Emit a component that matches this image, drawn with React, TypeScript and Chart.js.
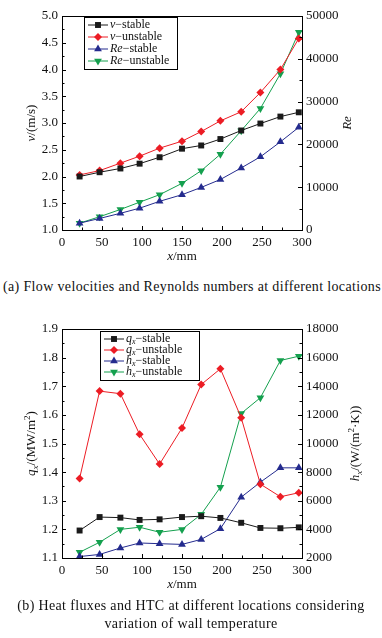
import React, { useEffect, useRef } from 'react';
import { Chart, registerables } from 'chart.js';
Chart.register(...registerables);

// ---------- data ----------
const X_MM = [22, 47, 73, 97, 122, 150, 174, 198, 224, 248, 273, 296];

const V_STABLE = [2.0, 2.08, 2.15, 2.24, 2.36, 2.52, 2.58, 2.7, 2.86, 2.99, 3.12, 3.2];
const V_UNSTABLE = [2.03, 2.11, 2.25, 2.38, 2.53, 2.66, 2.84, 3.04, 3.21, 3.57, 4.0, 4.58];
const RE_STABLE = [1600, 2700, 3900, 5100, 6700, 8250, 9950, 11800, 14500, 17100, 20600, 24000];
const RE_UNSTABLE = [1600, 3100, 4800, 6500, 8250, 10900, 13850, 17700, 23200, 28400, 36500, 46200];

const Q_STABLE = [1.196, 1.243, 1.241, 1.233, 1.235, 1.243, 1.246, 1.24, 1.223, 1.205, 1.204, 1.207];
const Q_UNSTABLE = [1.378, 1.683, 1.674, 1.532, 1.428, 1.554, 1.706, 1.761, 1.59, 1.358, 1.314, 1.328];
const H_STABLE = [2100, 2250, 2700, 3050, 3000, 2950, 3300, 4050, 6250, 7300, 8300, 8300];
const H_UNSTABLE = [2400, 3100, 4000, 4150, 3800, 4000, 5050, 6950, 12100, 13200, 15800, 16100];

const CAPTION_A = '(a) Flow velocities and Reynolds numbers at different locations';
const CAPTION_B1 = '(b) Heat fluxes and HTC at different locations considering';
const CAPTION_B2 = 'variation of wall temperature';

const FONT = '"Liberation Serif", "DejaVu Serif", serif';
const C_BLACK = '#1a1a1a';
const C_RED = '#ec1c24';
const C_BLUE = '#242b8e';
const C_GREEN = '#14a04e';

type Part = { t: string; i?: boolean; sub?: boolean; sup?: boolean };

function partFont(p: Part, size: number) {
  const s = p.sub || p.sup ? Math.round(size * 0.68) : size;
  return `${p.i ? 'italic ' : ''}${s}px ${FONT}`;
}

function richWidth(ctx: CanvasRenderingContext2D, parts: Part[], size: number) {
  let w = 0;
  for (const p of parts) {
    ctx.font = partFont(p, size);
    w += ctx.measureText(p.t).width;
  }
  return w;
}

function drawRich(ctx: CanvasRenderingContext2D, parts: Part[], x: number, y: number, size: number, align: 'left' | 'center') {
  const w = richWidth(ctx, parts, size);
  let cx = align === 'center' ? x - w / 2 : x;
  ctx.textAlign = 'left';
  ctx.textBaseline = 'middle';
  for (const p of parts) {
    ctx.font = partFont(p, size);
    const dy = p.sub ? size * 0.28 : p.sup ? -size * 0.35 : 0;
    ctx.fillText(p.t, cx, y + dy);
    cx += ctx.measureText(p.t).width;
  }
}

function drawMarker(ctx: CanvasRenderingContext2D, style: string, x: number, y: number, r: number, rot: number) {
  ctx.beginPath();
  if (style === 'rect') {
    const s = r * Math.SQRT1_2;
    ctx.rect(x - s, y - s, 2 * s, 2 * s);
  } else if (style === 'rectRot') {
    ctx.moveTo(x, y - r);
    ctx.lineTo(x + r, y);
    ctx.lineTo(x, y + r);
    ctx.lineTo(x - r, y);
    ctx.closePath();
  } else {
    const sign = rot === 180 ? -1 : 1;
    ctx.moveTo(x, y - sign * r);
    ctx.lineTo(x + r * 0.866, y + sign * r * 0.5);
    ctx.lineTo(x - r * 0.866, y + sign * r * 0.5);
    ctx.closePath();
  }
  ctx.fill();
}

type ChartCfg = {
  labels: Part[][];
  legendBox: { dx: number; dy: number; w: number; rowH: number; pad: number };
  xTitle: Part[];
  yTitle: Part[];
  y2Title: Part[];
  yTitleX: number;
  y2TitleX: number;
  xTitleDy: number;
  minor: { x: number; y: number; y2: number };
};

function makeDecorPlugin(cfg: ChartCfg) {
  return {
    id: 'decor',
    afterDatasetsDraw(chart: any) {
      const ctx: CanvasRenderingContext2D = chart.ctx;
      const a = chart.chartArea;
      ctx.save();
      // frame
      ctx.strokeStyle = '#000';
      ctx.lineWidth = 1;
      ctx.strokeRect(Math.round(a.left) + 0.5, Math.round(a.top) + 0.5, Math.round(a.right - a.left), Math.round(a.bottom - a.top));
      // inward ticks
      const sx = chart.scales.x;
      const sy = chart.scales.y;
      const sy2 = chart.scales.y2;
      ctx.beginPath();
      const tickLines = (scale: any, step: number, kind: 'x' | 'y' | 'y2') => {
        const min = scale.min;
        const max = scale.max;
        const n = Math.round((max - min) / step);
        for (let k = 0; k <= n; k++) {
          const v = min + k * step;
          const major = k % 2 === 0;
          const len = major ? 4 : 2.5;
          const p = Math.round(scale.getPixelForValue(v)) + 0.5;
          if (kind === 'x') {
            ctx.moveTo(p, a.bottom);
            ctx.lineTo(p, a.bottom - len);
          } else if (kind === 'y') {
            ctx.moveTo(a.left, p);
            ctx.lineTo(a.left + len, p);
          } else {
            ctx.moveTo(a.right, p);
            ctx.lineTo(a.right - len, p);
          }
        }
      };
      tickLines(sx, cfg.minor.x, 'x');
      tickLines(sy, cfg.minor.y, 'y');
      tickLines(sy2, cfg.minor.y2, 'y2');
      ctx.stroke();

      // axis titles
      ctx.fillStyle = '#111';
      const midY = (a.top + a.bottom) / 2;
      drawRich(ctx, cfg.xTitle, (a.left + a.right) / 2, a.bottom + cfg.xTitleDy, 13, 'center');
      ctx.save();
      ctx.translate(cfg.yTitleX, midY);
      ctx.rotate(-Math.PI / 2);
      drawRich(ctx, cfg.yTitle, 0, 0, 13, 'center');
      ctx.restore();
      ctx.save();
      ctx.translate(cfg.y2TitleX, midY);
      ctx.rotate(-Math.PI / 2);
      drawRich(ctx, cfg.y2Title, 0, 0, 13, 'center');
      ctx.restore();

      // legend
      const lb = cfg.legendBox;
      const lx = a.left + lb.dx;
      const ly = a.top + lb.dy;
      const h = lb.pad * 2 + lb.rowH * (chart.data.datasets.length - 1) + 2;
      ctx.fillStyle = '#fff';
      ctx.fillRect(lx, ly, lb.w, h);
      ctx.strokeStyle = '#000';
      ctx.strokeRect(Math.round(lx) + 0.5, Math.round(ly) + 0.5, lb.w, Math.round(h));
      chart.data.datasets.forEach((ds: any, i: number) => {
        const ry = ly + lb.pad + 1 + i * lb.rowH;
        ctx.strokeStyle = ds.borderColor;
        ctx.lineWidth = 1;
        ctx.beginPath();
        ctx.moveTo(lx + 4, ry);
        ctx.lineTo(lx + 24, ry);
        ctx.stroke();
        ctx.fillStyle = ds.pointBackgroundColor;
        drawMarker(ctx, ds.pointStyle, lx + 14, ry, ds.pointRadius, ds.pointRotation || 0);
        ctx.fillStyle = '#111';
        drawRich(ctx, cfg.labels[i], lx + 26, ry, 12, 'left');
      });
      ctx.restore();
    },
  };
}

function ds(label: string, xs: number[], ys: number[], color: string, style: string, axis: string, rot = 0, r = 4) {
  return {
    label,
    data: xs.map((x, i) => ({ x, y: ys[i] })),
    borderColor: color,
    backgroundColor: color,
    pointBackgroundColor: color,
    pointBorderColor: color,
    pointBorderWidth: 0,
    pointStyle: style,
    pointRotation: rot,
    pointRadius: r,
    borderWidth: 1,
    yAxisID: axis,
    tension: 0,
  };
}

function buildOptions(o: {
  padTop: number;
  xHeight: number;
  yMin: number; yMax: number; yStep: number; yDigits: number;
  y2Min: number; y2Max: number; y2Step: number;
}) {
  const tickFont = { family: FONT, size: 13 };
  return {
    animation: false,
    responsive: false,
    maintainAspectRatio: false,
    events: [],
    layout: { padding: { top: o.padTop, left: 0, right: 0, bottom: 0 } },
    plugins: { legend: { display: false }, tooltip: { enabled: false } },
    scales: {
      x: {
        type: 'linear',
        min: 0,
        max: 300,
        grid: { display: false, drawTicks: false },
        border: { display: false },
        ticks: { stepSize: 50, font: tickFont, color: '#111', padding: 5, maxRotation: 0, callback: (v: any) => String(v) },
        afterFit: (s: any) => { s.height = o.xHeight; },
      },
      y: {
        type: 'linear',
        position: 'left',
        min: o.yMin,
        max: o.yMax,
        grid: { display: false, drawTicks: false },
        border: { display: false },
        ticks: { stepSize: o.yStep, font: tickFont, color: '#111', padding: 4, callback: (v: any) => Number(v).toFixed(o.yDigits) },
        afterFit: (s: any) => { s.width = 62; },
      },
      y2: {
        type: 'linear',
        position: 'right',
        min: o.y2Min,
        max: o.y2Max,
        grid: { display: false, drawTicks: false },
        border: { display: false },
        ticks: { stepSize: o.y2Step, font: tickFont, color: '#111', padding: 4, callback: (v: any) => String(Math.round(Number(v))) },
        afterFit: (s: any) => { s.width = 80; },
      },
    },
  };
}

function ChartA() {
  const ref = useRef<HTMLCanvasElement>(null);
  useEffect(() => {
    const chart = new Chart(ref.current as HTMLCanvasElement, {
      type: 'line',
      data: {
        datasets: [
          ds('v-stable', X_MM, V_STABLE, C_BLACK, 'rect', 'y', 0, 4.2),
          ds('v-unstable', X_MM, V_UNSTABLE, C_RED, 'rectRot', 'y', 0, 4),
          ds('Re-stable', X_MM, RE_STABLE, C_BLUE, 'triangle', 'y2', 0, 4.5),
          ds('Re-unstable', X_MM, RE_UNSTABLE, C_GREEN, 'triangle', 'y2', 180, 4.5),
        ] as any,
      },
      options: buildOptions({
        padTop: 16, xHeight: 40,
        yMin: 1, yMax: 5, yStep: 0.5, yDigits: 1,
        y2Min: 0, y2Max: 50000, y2Step: 10000,
      }) as any,
      plugins: [
        makeDecorPlugin({
          labels: [
            [{ t: 'v', i: true }, { t: '\u2212stable' }],
            [{ t: 'v', i: true }, { t: '\u2212unstable' }],
            [{ t: 'Re', i: true }, { t: '\u2212stable' }],
            [{ t: 'Re', i: true }, { t: '\u2212unstable' }],
          ],
          legendBox: { dx: 22, dy: 1, w: 93, rowH: 12, pad: 7 },
          xTitle: [{ t: 'x', i: true }, { t: '/mm' }],
          yTitle: [{ t: 'v', i: true }, { t: '/(m/s)' }],
          y2Title: [{ t: 'Re', i: true }],
          yTitleX: 32,
          y2TitleX: 348,
          xTitleDy: 27,
          minor: { x: 25, y: 0.25, y2: 5000 },
        }),
      ],
    });
    return () => chart.destroy();
  }, []);
  return <canvas ref={ref} width={382} height={270} style={{ position: 'absolute', left: 0, top: 0, width: 382, height: 270 }} />;
}

function ChartB() {
  const ref = useRef<HTMLCanvasElement>(null);
  useEffect(() => {
    const chart = new Chart(ref.current as HTMLCanvasElement, {
      type: 'line',
      data: {
        datasets: [
          ds('qx-stable', X_MM, Q_STABLE, C_BLACK, 'rect', 'y', 0, 4.2),
          ds('qx-unstable', X_MM, Q_UNSTABLE, C_RED, 'rectRot', 'y', 0, 4),
          ds('hx-stable', X_MM, H_STABLE, C_BLUE, 'triangle', 'y2', 0, 4.5),
          ds('hx-unstable', X_MM, H_UNSTABLE, C_GREEN, 'triangle', 'y2', 180, 4.5),
        ] as any,
      },
      options: buildOptions({
        padTop: 19, xHeight: 42,
        yMin: 1.1, yMax: 1.9, yStep: 0.1, yDigits: 1,
        y2Min: 2000, y2Max: 18000, y2Step: 2000,
      }) as any,
      plugins: [
        makeDecorPlugin({
          labels: [
            [{ t: 'q', i: true }, { t: 'x', i: true, sub: true }, { t: '\u2212stable' }],
            [{ t: 'q', i: true }, { t: 'x', i: true, sub: true }, { t: '\u2212unstable' }],
            [{ t: 'h', i: true }, { t: 'x', i: true, sub: true }, { t: '\u2212stable' }],
            [{ t: 'h', i: true }, { t: 'x', i: true, sub: true }, { t: '\u2212unstable' }],
          ],
          legendBox: { dx: 38, dy: 2, w: 99, rowH: 11, pad: 7 },
          xTitle: [{ t: 'x', i: true }, { t: '/mm' }],
          yTitle: [{ t: 'q', i: true }, { t: 'x', i: true, sub: true }, { t: '/(MW/m' }, { t: '2', sup: true }, { t: ')' }],
          y2Title: [{ t: 'h', i: true }, { t: 'x', i: true, sub: true }, { t: '/(W/(m' }, { t: '2', sup: true }, { t: '\u00b7K))' }],
          yTitleX: 32,
          y2TitleX: 356,
          xTitleDy: 27,
          minor: { x: 25, y: 0.05, y2: 1000 },
        }),
      ],
    });
    return () => chart.destroy();
  }, []);
  return <canvas ref={ref} width={382} height={290} style={{ position: 'absolute', left: 0, top: 310, width: 382, height: 290 }} />;
}

const capStyle: React.CSSProperties = {
  position: 'absolute',
  fontFamily: FONT,
  fontSize: 14,
  letterSpacing: '0.35px',
  color: '#111',
  whiteSpace: 'nowrap',
  lineHeight: '16px',
};

export default function App() {
  return (
    <div style={{ position: 'absolute', left: 0, top: 0, width: 382, height: 638, background: '#fff', overflow: 'hidden' }}>
      <ChartA />
      <div style={{ ...capStyle, left: 3, top: 279, width: 379, textAlign: 'left' }}>{CAPTION_A}</div>
      <ChartB />
      <div style={{ ...capStyle, left: 0, top: 598, width: 382, textAlign: 'center' }}>{CAPTION_B1}</div>
      <div style={{ ...capStyle, left: 0, top: 616, width: 382, textAlign: 'center' }}>{CAPTION_B2}</div>
    </div>
  );
}
